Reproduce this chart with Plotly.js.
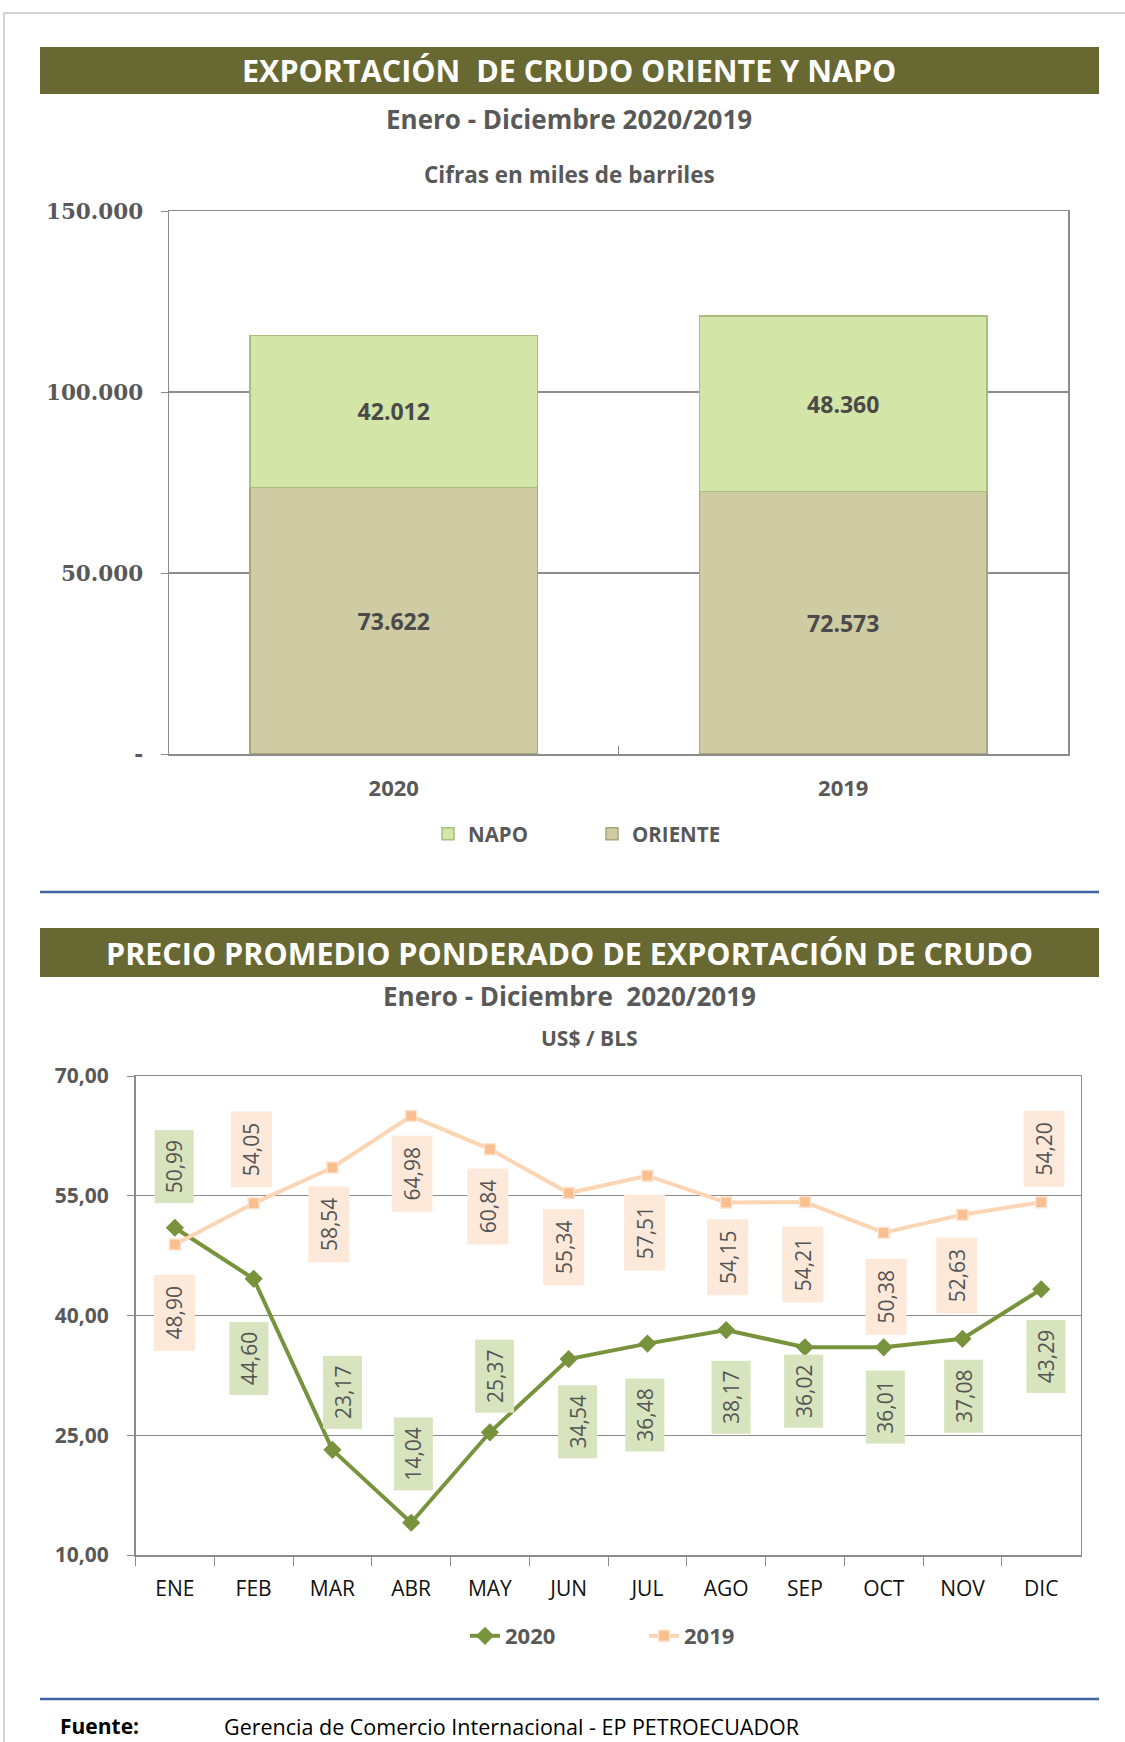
<!DOCTYPE html>
<html>
<head>
<meta charset="utf-8">
<script src="https://cdn.plot.ly/plotly-3.0.1.min.js"></script>
<style>
html,body{margin:0;padding:0;background:#fff;}
#chart{width:1125px;height:1742px;}
</style>
</head>
<body>
<div id="chart"></div>
<script>
// ---------- DATA ----------
const barCategories = ['2020', '2019'];
const orienteValues = [73622, 72573];
const napoValues = [42012, 48360];
const barTickVals = [0, 50000, 100000, 150000];
const barTickText = ['-', '50.000', '100.000', '150.000'];

const months = ['ENE','FEB','MAR','ABR','MAY','JUN','JUL','AGO','SEP','OCT','NOV','DIC'];
const price2020 = [50.99, 44.60, 23.17, 14.04, 25.37, 34.54, 36.48, 38.17, 36.02, 36.01, 37.08, 43.29];
const price2019 = [48.90, 54.05, 58.54, 64.98, 60.84, 55.34, 57.51, 54.15, 54.21, 50.38, 52.63, 54.20];
const priceTickVals = [10, 25, 40, 55, 70];

// ---------- LABEL OFFSETS (px, style only) ----------
const off2020x = [-1, -5, 10, 2, 5, 9, -3, 5, -1, 2, 1, 5];
const off2020y = [61, -80, 58, 69, 56, -63, -71, -67, -44, -60, -57, -67];
const off2019x = [0, -2, -3, 1, -2, -5, -3, 1, -2, 2, -6, 3];
const off2019y = [-68, 54, -57, -58, -57, -54, -57, -55, -62, -64, -61, 53];

// ---------- HELPERS ----------
const W = 1125, H = 1742;
const px = x => x / W;
const py = y => (H - y) / H;
const GRAY = '#595959';
const FONT = 'Open Sans, Lato, sans-serif';
const fmt = v => v.toFixed(2).replace('.', ',');

const traces = [
  {
    type: 'bar', name: 'ORIENTE', x: barCategories, y: orienteValues,
    xaxis: 'x', yaxis: 'y', legend: 'legend',
    marker: {color: '#cfcba2', line: {color: '#a9a57c', width: 1.5}},
    texttemplate: '%{y:,.0f}', textposition: 'inside', insidetextanchor: 'middle',
    textfont: {family: FONT, size: 23, color: '#4a4a4a', weight: 'bold'},
    hoverinfo: 'skip'
  },
  {
    type: 'bar', name: 'NAPO', x: barCategories, y: napoValues,
    xaxis: 'x', yaxis: 'y', legend: 'legend',
    marker: {color: '#d3e5a7', line: {color: '#a8bf7c', width: 1.5}},
    texttemplate: '%{y:,.0f}', textposition: 'inside', insidetextanchor: 'middle',
    textfont: {family: FONT, size: 23, color: '#4a4a4a', weight: 'bold'},
    hoverinfo: 'skip'
  },
  {
    type: 'scatter', mode: 'lines+markers', name: '2020', x: months, y: price2020,
    xaxis: 'x2', yaxis: 'y2', legend: 'legend2',
    line: {color: '#77933c', width: 4},
    marker: {symbol: 'diamond', size: 14, color: '#77933c'},
    hoverinfo: 'skip'
  },
  {
    type: 'scatter', mode: 'lines+markers', name: '2019', x: months, y: price2019,
    xaxis: 'x2', yaxis: 'y2', legend: 'legend2',
    line: {color: '#fcd5b4', width: 4},
    marker: {symbol: 'square', size: 11, color: '#fabf8f', line: {color: '#fde3cf', width: 1.5}},
    hoverinfo: 'skip'
  }
];

const annotations = [];
function addText(text, x, y, size, color, bold, xanchor) {
  annotations.push({
    xref: 'paper', yref: 'paper', x: px(x), y: py(y), text: text, showarrow: false,
    xanchor: xanchor || 'center', yanchor: 'middle',
    font: {family: FONT, size: size, color: color, weight: bold ? 'bold' : 'normal'}
  });
}
addText('EXPORTACIÓN  DE CRUDO ORIENTE Y NAPO', 569, 70, 30.5, '#ffffff', true);
addText('Enero - Diciembre 2020/2019', 569, 119, 26, GRAY, true);
addText('Cifras en miles de barriles', 569, 175, 22.5, GRAY, true);
addText('PRECIO PROMEDIO PONDERADO DE EXPORTACIÓN DE CRUDO', 569, 953, 30.5, '#ffffff', true);
addText('Enero - Diciembre  2020/2019', 569, 996, 26, GRAY, true);
addText('US$ / BLS', 589, 1038, 21, GRAY, true);
addText('Fuente:', 58, 1726, 21, '#000000', true, 'left');
addText('Gerencia de Comercio Internacional - EP PETROECUADOR', 222, 1726, 21.5, '#000000', false, 'left');

months.forEach((m, i) => {
  annotations.push({
    xref: 'x2', yref: 'y2', x: m, y: price2020[i], text: fmt(price2020[i]), showarrow: false,
    textangle: -90, xshift: off2020x[i], yshift: off2020y[i],
    bgcolor: '#d7e4bd', width: 72, height: 38, borderpad: 0,
    font: {family: FONT, size: 21, color: '#555555'}
  });
  annotations.push({
    xref: 'x2', yref: 'y2', x: m, y: price2019[i], text: fmt(price2019[i]), showarrow: false,
    textangle: -90, xshift: off2019x[i], yshift: off2019y[i],
    bgcolor: '#fde9d9', width: 75, height: 40, borderpad: 0,
    font: {family: FONT, size: 21, color: '#555555'}
  });
});

const shapes = [
  {type: 'rect', xref: 'paper', yref: 'paper', x0: px(4), x1: px(1140), y0: py(1760), y1: py(13),
   line: {color: '#d4d4d4', width: 2}, fillcolor: 'rgba(0,0,0,0)', layer: 'below'},
  {type: 'rect', xref: 'paper', yref: 'paper', x0: px(40), x1: px(1099), y0: py(94), y1: py(47),
   line: {width: 0}, fillcolor: '#676832', layer: 'below'},
  {type: 'rect', xref: 'paper', yref: 'paper', x0: px(40), x1: px(1099), y0: py(977), y1: py(928),
   line: {width: 0}, fillcolor: '#676832', layer: 'below'},
  {type: 'line', xref: 'paper', yref: 'paper', x0: px(40), x1: px(1099), y0: py(892), y1: py(892),
   line: {color: '#3f64a0', width: 2.5}},
  {type: 'line', xref: 'paper', yref: 'paper', x0: px(40), x1: px(1099), y0: py(1699), y1: py(1699),
   line: {color: '#3f64a0', width: 2.5}}
];

const layout = {
  width: W, height: H,
  margin: {l: 0, r: 0, t: 0, b: 0},
  paper_bgcolor: '#ffffff', plot_bgcolor: '#ffffff',
  separators: ',.',
  barmode: 'stack', bargap: 0.36,
  showlegend: true,
  xaxis: {
    domain: [px(169), px(1068)], anchor: 'y', type: 'category',
    showline: true, mirror: true, linecolor: '#8c8c8c', linewidth: 1.5,
    ticks: 'inside', tickson: 'boundaries', ticklen: 8, tickcolor: '#8c8c8c',
    ticklabelstandoff: 14,
    tickfont: {family: FONT, size: 22, color: GRAY, weight: 'bold'},
    showgrid: false, fixedrange: true
  },
  yaxis: {
    domain: [py(754), py(211)], anchor: 'x', range: [0, 150000],
    tickvals: barTickVals, ticktext: barTickText,
    showline: true, mirror: true, linecolor: '#8c8c8c', linewidth: 1.5,
    ticks: 'outside', ticklen: 7, tickcolor: '#8c8c8c',
    ticklabelstandoff: 13,
    showgrid: true, gridcolor: '#8c8c8c', gridwidth: 1.2,
    tickfont: {family: 'DejaVu Serif, Liberation Serif, serif', size: 21.5, color: GRAY, weight: 'bold'},
    zeroline: false, fixedrange: true
  },
  xaxis2: {
    domain: [px(135.5), px(1080.6)], anchor: 'y2', type: 'category',
    range: [-0.5, months.length - 0.5],
    showline: true, mirror: true, linecolor: '#8c8c8c', linewidth: 1.5,
    ticks: 'outside', tickson: 'boundaries', ticklen: 9, tickcolor: '#8c8c8c',
    ticklabelstandoff: 14,
    tickfont: {family: FONT, size: 21, color: '#111111'},
    showgrid: false, fixedrange: true
  },
  yaxis2: {
    domain: [py(1555), py(1076)], anchor: 'x2', range: [10, 70],
    tickvals: priceTickVals, tickformat: '.2f',
    showline: true, mirror: true, linecolor: '#8c8c8c', linewidth: 1.5,
    ticks: 'outside', ticklen: 7, tickcolor: '#8c8c8c',
    ticklabelstandoff: 14,
    showgrid: true, gridcolor: '#8c8c8c', gridwidth: 1.2,
    tickfont: {family: FONT, size: 21, color: GRAY, weight: 'bold'},
    zeroline: false, fixedrange: true
  },
  legend: {
    orientation: 'h', x: px(428), y: py(834), xanchor: 'left', yanchor: 'middle',
    traceorder: 'reversed', entrywidth: 119, entrywidthmode: 'pixels',
    font: {family: FONT, size: 20.5, color: GRAY, weight: 'bold'},
    bgcolor: 'rgba(0,0,0,0)'
  },
  legend2: {
    orientation: 'h', x: px(465), y: py(1636), xanchor: 'left', yanchor: 'middle',
    traceorder: 'normal', entrywidth: 134, entrywidthmode: 'pixels',
    font: {family: FONT, size: 22, color: GRAY, weight: 'bold'},
    bgcolor: 'rgba(0,0,0,0)'
  },
  annotations: annotations,
  shapes: shapes
};

Plotly.newPlot('chart', traces, layout, {staticPlot: true, displayModeBar: false});
</script>
</body>
</html>
